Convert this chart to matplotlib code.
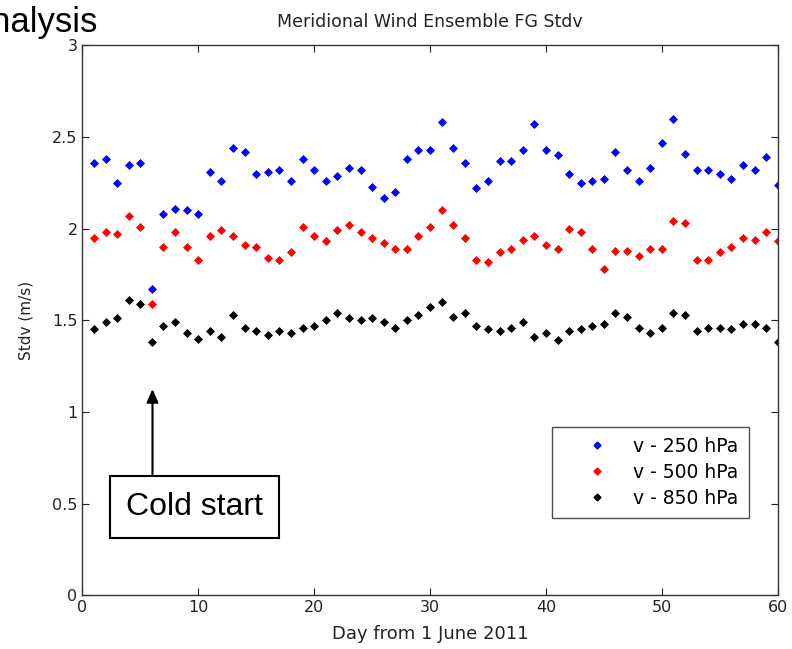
import matplotlib.pyplot as plt
from matplotlib.lines import Line2D

days = list(range(1, 61))

v250 = [2.36, 2.38, 2.25, 2.35, 2.36, 1.67, 2.08, 2.11, 2.10, 2.08,
        2.31, 2.26, 2.44, 2.42, 2.30, 2.31, 2.32, 2.26, 2.38, 2.32,
        2.26, 2.29, 2.33, 2.32, 2.23, 2.17, 2.20, 2.38, 2.43, 2.43,
        2.58, 2.44, 2.36, 2.22, 2.26, 2.37, 2.37, 2.43, 2.57, 2.43,
        2.40, 2.30, 2.25, 2.26, 2.27, 2.42, 2.32, 2.26, 2.33, 2.47,
        2.60, 2.41, 2.32, 2.32, 2.30, 2.27, 2.35, 2.32, 2.39, 2.24]

v500 = [1.95, 1.98, 1.97, 2.07, 2.01, 1.59, 1.90, 1.98, 1.90, 1.83,
        1.96, 1.99, 1.96, 1.91, 1.90, 1.84, 1.83, 1.87, 2.01, 1.96,
        1.93, 1.99, 2.02, 1.98, 1.95, 1.92, 1.89, 1.89, 1.96, 2.01,
        2.10, 2.02, 1.95, 1.83, 1.82, 1.87, 1.89, 1.94, 1.96, 1.91,
        1.89, 2.00, 1.98, 1.89, 1.78, 1.88, 1.88, 1.85, 1.89, 1.89,
        2.04, 2.03, 1.83, 1.83, 1.87, 1.90, 1.95, 1.94, 1.98, 1.93]

v850 = [1.45, 1.49, 1.51, 1.61, 1.59, 1.38, 1.47, 1.49, 1.43, 1.40,
        1.44, 1.41, 1.53, 1.46, 1.44, 1.42, 1.44, 1.43, 1.46, 1.47,
        1.50, 1.54, 1.51, 1.50, 1.51, 1.49, 1.46, 1.50, 1.53, 1.57,
        1.60, 1.52, 1.54, 1.47, 1.45, 1.44, 1.46, 1.49, 1.41, 1.43,
        1.39, 1.44, 1.45, 1.47, 1.48, 1.54, 1.52, 1.46, 1.43, 1.46,
        1.54, 1.53, 1.44, 1.46, 1.46, 1.45, 1.48, 1.48, 1.46, 1.38]

labels = ['v - 250 hPa', 'v - 500 hPa', 'v - 850 hPa']
colors = ['#0000ff', '#ff0000', '#000000']

plt.rcParams['font.family'] = ['DejaVu Sans']

fig = plt.figure(figsize=(7.92, 6.49), dpi=100)
ax = fig.add_axes([0.104, 0.083, 0.878, 0.847])

for vals, c, lab in zip([v250, v500, v850], colors, labels):
    ax.plot(days, vals, linestyle='none', marker='D', ms=4.5, mec=c, mfc=c, mew=0.5, label=lab)

ax.set_xlim(0, 60)
ax.set_ylim(0, 3)
ax.set_xticks(range(0, 61, 10))
ax.set_yticks([0, 0.5, 1, 1.5, 2, 2.5, 3])
ax.set_yticklabels(['0', '0.5', '1', '1.5', '2', '2.5', '3'])
ax.tick_params(direction='in', top=True, right=True, labelsize=11.5, length=5, colors='#222222')
for sp in ax.spines.values():
    sp.set_color('#333333')
    sp.set_linewidth(1.0)

ax.set_title('Meridional Wind Ensemble FG Stdv', fontsize=12.5, pad=13, color='#222222')
ax.set_xlabel('Day from 1 June 2011', fontsize=13, labelpad=7, color='#222222')
ax.set_ylabel('Stdv (m/s)', fontsize=11, labelpad=13, color='#222222')

handles = [Line2D([], [], linestyle='none', marker='D', ms=3.5, mfc=c, mec=c) for c in colors]
leg = ax.legend(handles, labels, loc='lower right', bbox_to_anchor=(0.958, 0.14),
                fontsize=13.5, frameon=True, fancybox=False, handletextpad=0.1,
                borderpad=0.55, labelspacing=0.37, handlelength=3.67, borderaxespad=0)
leg.get_frame().set_edgecolor('#222222')
leg.get_frame().set_linewidth(1.0)

# Cold start annotation
ax.annotate('', xy=(6.05, 1.14), xytext=(6.05, 0.64),
            arrowprops=dict(arrowstyle='-|>,head_length=0.8,head_width=0.35', color='black', lw=1.5))
ax.text(9.7, 0.48, 'Cold start', fontsize=23, ha='center', va='center',
        family=['Liberation Sans', 'DejaVu Sans'],
        bbox=dict(boxstyle='square,pad=0.5', fc='white', ec='black', lw=1.5))

fig.text(0.124, 0.951, 'Analysis', fontsize=25, ha='right', va='baseline',
         family=['Liberation Sans', 'DejaVu Sans'])

fig.savefig('out.png', dpi=100)
